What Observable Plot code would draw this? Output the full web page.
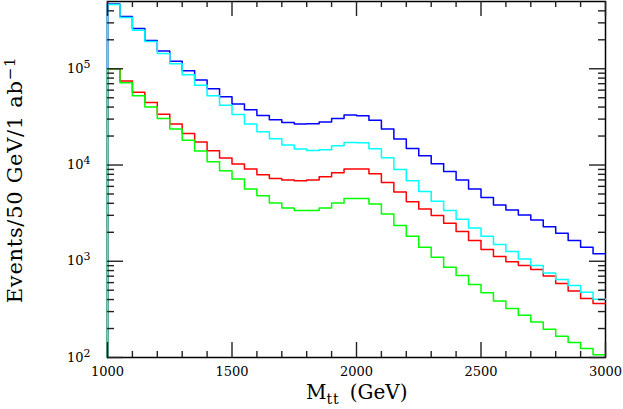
<!DOCTYPE html>
<html><head><meta charset="utf-8">
<script src="https://cdn.jsdelivr.net/npm/d3@7"></script>
<script src="https://cdn.jsdelivr.net/npm/@observablehq/plot@0.6"></script>
<style>html,body{margin:0;padding:0;background:#fff;} svg{display:block}</style>
</head><body><div id="chart"></div>
<script>
// 50 GeV bins, left edges 1000 ... 2950
const binStart = d3.range(1000, 3000, 50);
const blue = [472000, 349000, 262000, 197000, 152600, 119400, 95400, 76400, 62100, 51300,
  43100, 37600, 32600, 29600, 27600, 26600, 26900, 28000, 30500, 33000,
  32500, 29200, 23600, 18600, 14840, 12460, 10300, 8570, 7000, 5630,
  4610, 3850, 3410, 3030, 2690, 2290, 1950, 1640, 1400, 1195];
const cyan = [465000, 341000, 252000, 192000, 144000, 113000, 86700, 67300, 52500, 41800,
  33400, 26600, 22100, 18800, 16100, 14630, 14120, 14450, 15820, 17120,
  17000, 14800, 11880, 8990, 6870, 5320, 4210, 3360, 2730, 2220,
  1820, 1490, 1260, 1056, 904, 756, 648, 561, 475, 402];
const red = [100000, 74600, 56900, 44500, 33700, 26600, 21200, 17300, 14050, 11800,
  10230, 9080, 7920, 7255, 6980, 6870, 6980, 7550, 8310, 9080,
  9080, 8120, 6600, 5245, 4160, 3495, 2980, 2480, 2035, 1640,
  1324, 1120, 990, 905, 820, 704, 588, 492, 411, 363];
const green = [100000, 71600, 52500, 40100, 30400, 23700, 18130, 13950, 10800, 8720,
  7150, 5630, 4800, 4035, 3580, 3360, 3360, 3580, 4035, 4500,
  4500, 3940, 3100, 2350, 1820, 1400, 1100, 868, 712, 574,
  471, 386, 322, 274, 234, 196, 166, 143, 124, 107];

const xMajor = [1000, 1500, 2000, 2500, 3000];
const xMinor = [1100, 1200, 1300, 1400, 1600, 1700, 1800, 1900, 2100, 2200, 2300, 2400, 2600, 2700, 2800, 2900];
const yMajor = [100, 1000, 10000, 100000];
const yMinor = [200, 300, 400, 500, 600, 700, 800, 900,
  2000, 3000, 4000, 5000, 6000, 7000, 8000, 9000,
  20000, 30000, 40000, 50000, 60000, 70000, 80000, 90000,
  200000, 300000, 400000];

function steps(vals) {
  const pts = [{x: binStart[0], y: 100}];
  binStart.forEach((x, i) => pts.push({x, y: vals[i]}));
  pts.push({x: 3000, y: vals[vals.length - 1]});
  return pts;
}

const W = 623, H = 409, mL = 107, mR = 18, mT = 1, mB = 52;
const fw = W - mL - mR, fh = H - mT - mB;
const tk = {stroke: "#222", strokeWidth: 1.4};
const ln = {x: "x", y: "y", curve: "step-after", strokeWidth: 1.5};

const chart = Plot.plot({
  width: W, height: H,
  marginLeft: mL, marginRight: mR, marginTop: mT, marginBottom: mB,
  style: {fontFamily: "DejaVu Serif", fontSize: "13px", background: "white", color: "black"},
  x: {domain: [1000, 3000]},
  y: {type: "log", domain: [100, 5e5]},
  marks: [
    Plot.frame({stroke: "black", strokeWidth: 1.5}),
    Plot.line(steps(blue), {...ln, stroke: "#0000ff"}),
    Plot.line(steps(red), {...ln, stroke: "#ff0000"}),
    Plot.line(steps(green), {...ln, stroke: "#00ff00"}),
    Plot.line(steps(cyan), {...ln, stroke: "#00ffff"}),
    Plot.ruleX(xMajor, {x: d => d, insetTop: fh - 15, ...tk}),
    Plot.ruleX(xMajor, {x: d => d, insetBottom: fh - 15, ...tk}),
    Plot.ruleX(xMinor, {x: d => d, insetTop: fh - 6, ...tk}),
    Plot.ruleX(xMinor, {x: d => d, insetBottom: fh - 6, ...tk}),
    Plot.ruleY(yMajor, {y: d => d, insetRight: fw - 16, ...tk}),
    Plot.ruleY(yMajor, {y: d => d, insetLeft: fw - 16, ...tk}),
    Plot.ruleY(yMinor, {y: d => d, insetRight: fw - 7, ...tk}),
    Plot.ruleY(yMinor, {y: d => d, insetLeft: fw - 7, ...tk}),
    Plot.axisX({ticks: xMajor, tickSize: 0, tickPadding: 9, label: null, tickFormat: d => String(d)}),
    Plot.axisY({ticks: yMajor, tickSize: 0, tickPadding: 17, label: null, tickFormat: d => String(Math.round(Math.log10(d)))})
  ]
});
document.getElementById("chart").appendChild(chart);

const svg = d3.select(chart);
svg.selectAll('g[aria-label="y-axis tick label"] text').each(function () {
  const e = this.textContent;
  const t = d3.select(this);
  t.text("");
  t.append("tspan").text("10");
  t.append("tspan").attr("dy", "-0.45em").attr("font-size", "11px").text(e);
});

// axis titles
const yl = svg.append("text")
  .attr("transform", "translate(22,180) rotate(-90)")
  .attr("text-anchor", "middle")
  .attr("font-family", "DejaVu Serif").attr("font-size", "21px").attr("letter-spacing", "0.7px")
  .attr("fill", "black");
yl.append("tspan").text("Events/50 GeV/1 ab");
yl.append("tspan").attr("dy", "-0.5em").attr("font-size", "15px").text("\u22121");

const xl = svg.append("text")
  .attr("x", 306).attr("y", 399)
  .attr("text-anchor", "start")
  .attr("font-family", "DejaVu Serif").attr("font-size", "20px")
  .attr("fill", "black");
xl.append("tspan").text("M");
xl.append("tspan").attr("dy", "5").attr("font-size", "14px").attr("letter-spacing", "1px").text("tt");
xl.append("tspan").attr("dy", "-5").attr("dx", "10").text("(GeV)");
</script>
</body></html>
